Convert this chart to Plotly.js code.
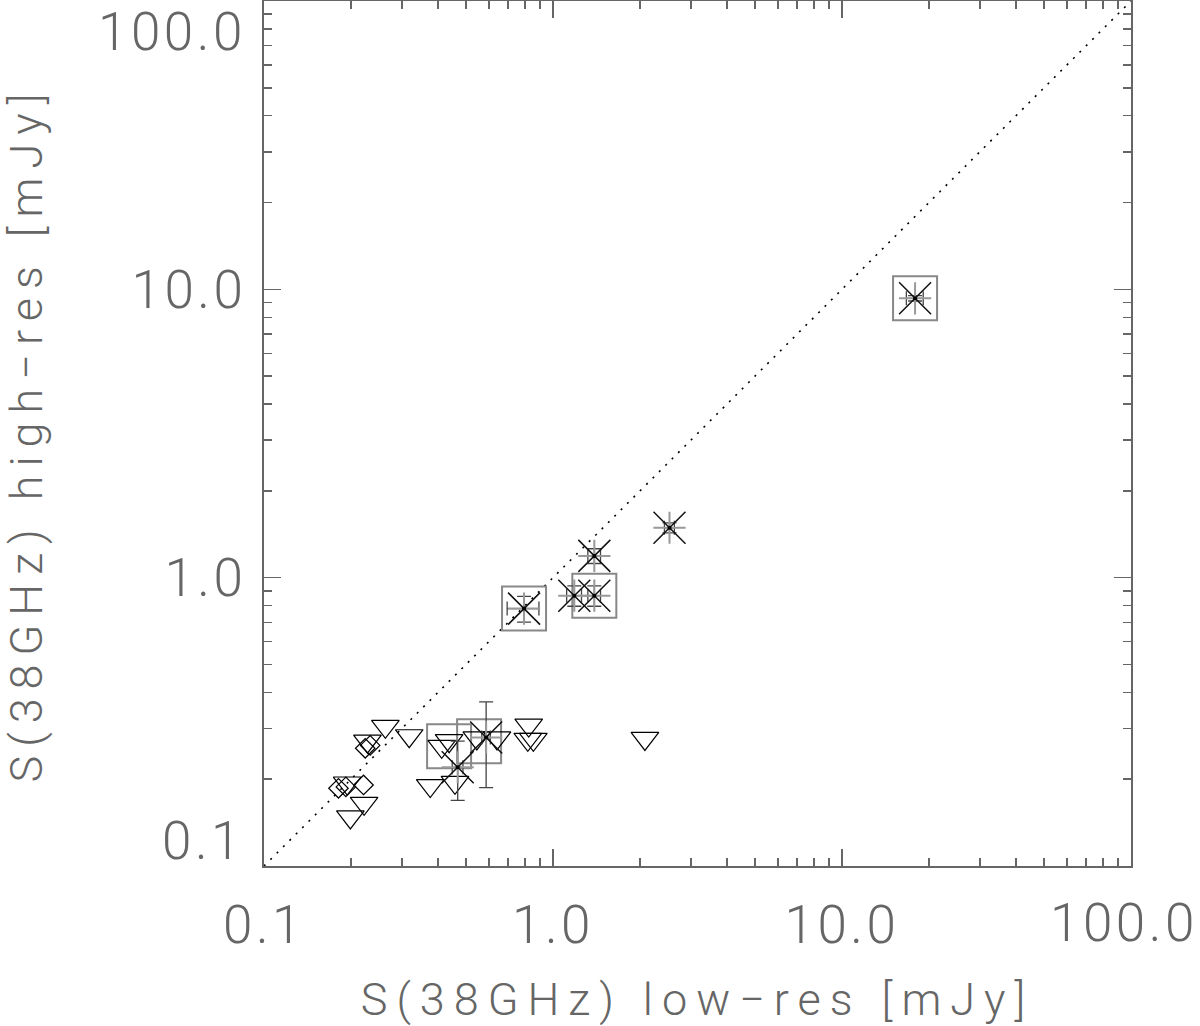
<!DOCTYPE html>
<html>
<head>
<meta charset="utf-8">
<script src="https://cdn.plot.ly/plotly-3.0.1.min.js"></script>
<style>
  html, body { margin: 0; padding: 0; background: #fff; }
  #chart { width: 1200px; height: 1026px; }
  .xtitle, .ytitle { letter-spacing: 9px; }
  .xtick text, .ytick text, .annotation-text { letter-spacing: 3.5px; }
</style>
</head>
<body>
<div id="chart"></div>
<script>
// ---- data (mJy) ----
// detections (asterisk symbols with error bars)
var detX     = [17.9, 2.53, 1.39, 1.185, 1.39, 0.794, 0.587, 0.468];
var detY     = [9.31, 1.49, 1.19, 0.866, 0.866, 0.781, 0.279, 0.220];
var detXErr  = [1.2, 0.10, 0.07, 0.07, 0.07, 0.10, 0.02, 0.02];
var detYErr  = [0.20, 0.06, 0.07, 0.07, 0.07, 0.08, 0.092, 0.051];

// squares (grey, large)
var sqX = [17.9, 1.39, 0.794, 0.437, 0.555];
var sqY = [9.31, 0.866, 0.781, 0.260, 0.271];

// upper limits (down triangles)
var limX = [0.263, 0.318, 0.228, 0.222, 0.199, 0.376, 0.437, 0.412, 0.458, 0.545, 0.640, 0.824, 0.818, 0.855, 2.08, 0.194];
var limY = [0.305, 0.283, 0.271, 0.165, 0.148, 0.190, 0.272, 0.260, 0.195, 0.278, 0.278, 0.308, 0.275, 0.275, 0.277, 0.194];

// diamonds
var diaX = [0.181, 0.192, 0.221, 0.224, 0.233];
var diaY = [0.186, 0.188, 0.191, 0.256, 0.262];

// one-to-one line
var lineX = [0.1, 100];
var lineY = [0.1, 100];

// axis tick labels
var majorVals = [0.1, 1, 10, 100];
var xTickText = ['0.1', '1.0', '10.0', ''];
var yTickText = ['', '1.0', '10.0', ''];

var xTitle = 'S(38GHz) low\u2212res [mJy]';
var yTitle = 'S(38GHz) high\u2212res [mJy]';

// ---- figure ----
var minorVals = [];
[0.1, 1, 10].forEach(function (d) {
  for (var k = 2; k <= 9; k++) minorVals.push(+(d * k).toPrecision(3));
});

var axisColor = '#666';
var fontFam = 'Roboto, "Liberation Sans", sans-serif';
var tickFont = { family: fontFam, size: 53, color: axisColor, weight: 300 };
var titleFont = { family: fontFam, size: 45, color: axisColor, weight: 300 };

var traces = [
  { x: lineX, y: lineY, mode: 'lines', type: 'scatter',
    line: { color: '#000', width: 1.6, dash: '2px,7px' }, hoverinfo: 'skip' },
  { x: sqX, y: sqY, mode: 'markers', type: 'scatter',
    marker: { symbol: 'square-open', size: 44, color: '#888', line: { color: '#888', width: 2 } } },
  { x: limX, y: limY, mode: 'markers', type: 'scatter',
    marker: { symbol: 'triangle-down-open', size: 24, color: '#000', line: { color: '#000', width: 1.2 } } },
  { x: diaX, y: diaY, mode: 'markers', type: 'scatter',
    marker: { symbol: 'diamond-open', size: 15, color: '#000', line: { color: '#000', width: 1.2 } } },
  { x: detX, y: detY, mode: 'markers', type: 'scatter',
    error_x: { type: 'data', array: detXErr, color: '#444', thickness: 1.3, width: 7 },
    error_y: { type: 'data', array: detYErr, color: '#444', thickness: 1.3, width: 7 },
    marker: { symbol: 'cross-thin-open', size: 23, color: '#999', line: { color: '#999', width: 2 } } },
  { x: detX, y: detY, mode: 'markers', type: 'scatter',
    marker: { symbol: 'x-thin-open', size: 32, color: '#111', line: { color: '#111', width: 1.5 } } },
  { x: detX, y: detY, mode: 'markers', type: 'scatter',
    marker: { symbol: 'circle', size: 4, color: '#000' } }
];

var axisCommon = {
  type: 'log',
  range: [-1, 2],
  tickmode: 'array',
  tickvals: majorVals,
  ticks: 'inside',
  ticklen: 17,
  tickwidth: 1.5,
  tickcolor: axisColor,
  showline: true,
  linecolor: axisColor,
  linewidth: 2,
  mirror: 'allticks',
  showgrid: false,
  zeroline: false,
  minor: { tickmode: 'array', tickvals: minorVals, ticks: 'inside', ticklen: 8, tickwidth: 1.5, tickcolor: axisColor, showgrid: false },
  tickfont: tickFont
};

var layout = {
  width: 1200,
  height: 1026,
  margin: { l: 264, r: 69, t: 1, b: 160 },
  paper_bgcolor: '#fff',
  plot_bgcolor: '#fff',
  showlegend: false,
  xaxis: Object.assign({}, axisCommon, {
    ticktext: xTickText,
    ticklabelstandoff: 11,
    title: { text: xTitle, font: titleFont, standoff: 31 }
  }),
  yaxis: Object.assign({}, axisCommon, {
    ticktext: yTickText,
    ticklabelstandoff: 5,
    title: { text: yTitle, font: titleFont, standoff: 89 }
  }),
  annotations: [
    { text: '0.1', xref: 'paper', yref: 'y', x: 0, y: -1, xanchor: 'right', yanchor: 'bottom',
      xshift: -18, yshift: -8, showarrow: false, font: tickFont },
    { text: '100.0', xref: 'paper', yref: 'y', x: 0, y: 2, xanchor: 'right', yanchor: 'top',
      xshift: -16, yshift: 2, showarrow: false, font: tickFont },
    { text: '100.0', xref: 'paper', yref: 'paper', x: 1, y: 0, xanchor: 'right', yanchor: 'top',
      xshift: 69, yshift: -24, showarrow: false, font: tickFont }
  ]
};

Plotly.newPlot('chart', traces, layout, { staticPlot: true, displayModeBar: false });
</script>
</body>
</html>
